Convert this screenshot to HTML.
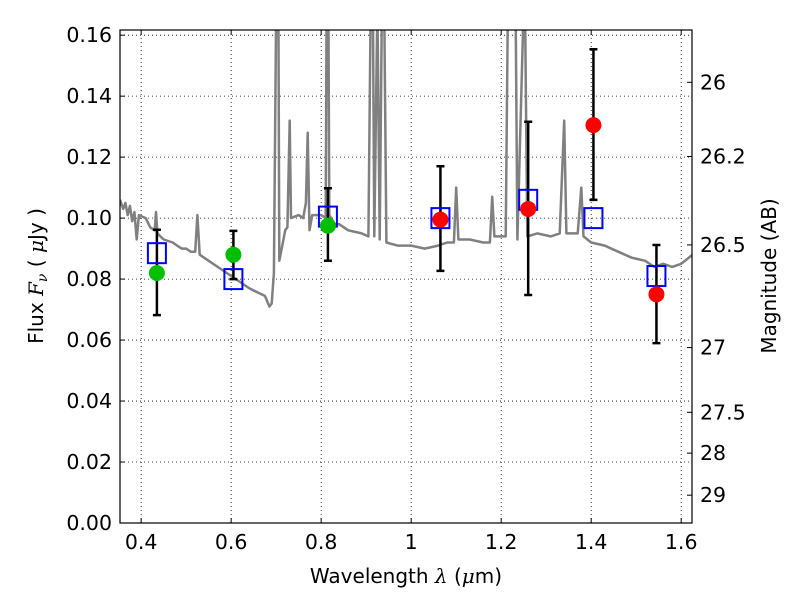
<!DOCTYPE html>
<html><head><meta charset="utf-8"><style>
body{margin:0;background:#fff;}
svg text{font-family:"DejaVu Sans","Liberation Sans",sans-serif;}
</style></head><body>
<svg id="chart" width="800" height="600" xmlns="http://www.w3.org/2000/svg">
<defs><clipPath id="clip"><rect x="120" y="30" width="572" height="493"/></clipPath></defs>
<rect x="0" y="0" width="800" height="600" fill="#fff"/>
<g id="grid"></g>
<g id="marks" clip-path="url(#clip)"></g>
<g id="marks2"></g>
<rect x="120" y="30" width="572" height="493" fill="none" stroke="#000" stroke-width="1.2"/>
<g id="axes"></g>
<text x="406" y="583" font-size="20" text-anchor="middle">Wavelength  <tspan font-style="italic" font-family="DejaVu Serif,serif">λ</tspan> (<tspan font-style="italic" font-family="DejaVu Serif,serif">μ</tspan>m)</text>
<text transform="translate(43,276) rotate(-90)" font-size="20" text-anchor="middle">Flux  <tspan font-style="italic" font-family="DejaVu Serif,serif">F</tspan><tspan font-style="italic" font-size="14" dy="4" font-family="DejaVu Serif,serif">ν</tspan><tspan dy="-4">  ( </tspan><tspan font-style="italic" font-family="DejaVu Serif,serif">μ</tspan>Jy )</text>
<text transform="translate(776,276) rotate(-90)" font-size="20" text-anchor="middle">Magnitude (AB)</text>
</svg>
<script>
const xTicks=[0.4,0.6,0.8,1.0,1.2,1.4,1.6];
const xTickLabels=["0.4","0.6","0.8","1","1.2","1.4","1.6"];
const yTicks=[0,0.02,0.04,0.06,0.08,0.10,0.12,0.14,0.16];
const yTickLabels=["0.00","0.02","0.04","0.06","0.08","0.10","0.12","0.14","0.16"];
const magTicks=[26,26.2,26.5,27,27.5,28,29];
const magTickLabels=["26","26.2","26.5","27","27.5","28","29"];
const specWave=[0.353,0.36,0.365,0.37,0.375,0.38,0.385,0.39,0.395,0.41,0.42,0.43,0.433,0.436,0.45,0.47,0.48,0.49,0.5,0.51,0.52,0.525,0.53,0.55,0.57,0.6,0.62,0.64,0.66,0.675,0.685,0.69,0.695,0.70,0.705,0.707,0.715,0.72,0.725,0.73,0.733,0.75,0.76,0.766,0.77,0.774,0.78,0.80,0.81,0.812,0.816,0.818,0.83,0.84,0.86,0.89,0.905,0.91,0.915,0.918,0.925,0.93,0.935,0.94,0.945,0.97,1.0,1.03,1.06,1.08,1.095,1.10,1.105,1.13,1.16,1.175,1.18,1.185,1.21,1.215,1.232,1.236,1.25,1.253,1.258,1.28,1.31,1.33,1.34,1.345,1.37,1.378,1.383,1.40,1.43,1.46,1.49,1.52,1.54,1.56,1.58,1.60,1.625];
const specFlux=[0.106,0.103,0.105,0.101,0.104,0.099,0.102,0.093,0.101,0.100,0.097,0.096,0.102,0.095,0.093,0.092,0.091,0.090,0.090,0.089,0.089,0.101,0.088,0.086,0.084,0.081,0.079,0.077,0.0755,0.0745,0.071,0.072,0.082,0.17,0.17,0.086,0.092,0.096,0.097,0.132,0.100,0.101,0.100,0.105,0.128,0.096,0.101,0.101,0.100,0.17,0.17,0.101,0.098,0.098,0.096,0.095,0.094,0.17,0.17,0.094,0.17,0.093,0.17,0.17,0.092,0.091,0.091,0.090,0.091,0.092,0.092,0.110,0.093,0.093,0.092,0.092,0.107,0.094,0.094,0.17,0.17,0.093,0.17,0.17,0.094,0.095,0.094,0.095,0.132,0.095,0.095,0.110,0.094,0.092,0.091,0.089,0.087,0.086,0.084,0.085,0.084,0.085,0.088];
const modelWave=[0.435,0.605,0.815,1.065,1.26,1.405,1.545];
const modelFlux=[0.0885,0.080,0.1005,0.100,0.106,0.100,0.081];
const greenWave=[0.435,0.605,0.815];
const greenFlux=[0.082,0.088,0.0975];
const greenLo=[0.0682,0.080,0.086];
const greenHi=[0.0962,0.0958,0.1098];
const redWave=[1.065,1.26,1.405,1.545];
const redFlux=[0.0995,0.103,0.1305,0.075];
const redLo=[0.0827,0.0748,0.106,0.059];
const redHi=[0.117,0.1316,0.1554,0.0912];

const L=120,R=692,T=30,B=523,XMIN=0.353,XMAX=1.624,YMIN=0,YMAX=0.1617;
const sx=v=>L+(v-XMIN)/(XMAX-XMIN)*(R-L);
const sy=v=>B-(v-YMIN)/(YMAX-YMIN)*(B-T);
const NS="http://www.w3.org/2000/svg";
function mk(parent,tag,attrs){const e=document.createElementNS(NS,tag);for(const k in attrs)e.setAttribute(k,attrs[k]);document.getElementById(parent).appendChild(e);return e;}

xTicks.forEach((t,i)=>{const x=sx(t);
 let g=mk('grid','line',{x1:x,x2:x,y1:T,y2:B,stroke:'#000','stroke-width':0.8,'stroke-dasharray':'1,3'});
 
 mk('axes','line',{x1:x,x2:x,y1:B,y2:B-5,stroke:'#000'});mk('axes','line',{x1:x,x2:x,y1:T,y2:T+5,stroke:'#000'});
 let tx=mk('axes','text',{x:x,y:B+26,'font-size':20.5,'text-anchor':'middle'});tx.textContent=xTickLabels[i];
 });
yTicks.forEach((t,i)=>{const y=sy(t);
 let g=mk('grid','line',{x1:L,x2:R,y1:y,y2:y,stroke:'#000','stroke-width':0.8,'stroke-dasharray':'1,3'});
 
 mk('axes','line',{x1:L,x2:L+5,y1:y,y2:y,stroke:'#000'});
 let tx=mk('axes','text',{x:L-8,y:y+7,'font-size':20.5,'text-anchor':'end'});tx.textContent=yTickLabels[i];
 });
magTicks.forEach((m,i)=>{const y=sy(Math.pow(10,(23.9-m)/2.5));
 mk('axes','line',{x1:R-5,x2:R,y1:y,y2:y,stroke:'#000'});
 let tx=mk('axes','text',{x:R+8,y:y+7,'font-size':20.5});tx.textContent=magTickLabels[i];
 });

let d=specWave.map((w,i)=>(i?'L':'M')+sx(w).toFixed(1)+','+sy(specFlux[i]).toFixed(1)).join('');
let sp=mk('marks','path',{d:d,fill:'none',stroke:'#808080','stroke-width':2.5,'stroke-linejoin':'round'});


function errbar(w,lo,hi){const x=sx(w);
 let e=mk('marks2','path',{d:`M${x},${sy(lo)}L${x},${sy(hi)}M${x-4},${sy(lo)}L${x+4},${sy(lo)}M${x-4},${sy(hi)}L${x+4},${sy(hi)}`,stroke:'#000','stroke-width':2.5,fill:'none'});
 }
greenWave.forEach((w,i)=>errbar(w,greenLo[i],greenHi[i]));
redWave.forEach((w,i)=>errbar(w,redLo[i],redHi[i]));
modelWave.forEach((w,i)=>{let r=mk('marks2','rect',{x:sx(w)-9,y:sy(modelFlux[i])-10,width:18,height:20,fill:'none',stroke:'#0000ff','stroke-width':2});
 });
greenWave.forEach((w,i)=>{let c=mk('marks2','circle',{cx:sx(w),cy:sy(greenFlux[i]),r:8,fill:'#00bf00'});
 });
redWave.forEach((w,i)=>{let c=mk('marks2','circle',{cx:sx(w),cy:sy(redFlux[i]),r:8,fill:'#ff0000'});
 });
</script>
</body></html>
